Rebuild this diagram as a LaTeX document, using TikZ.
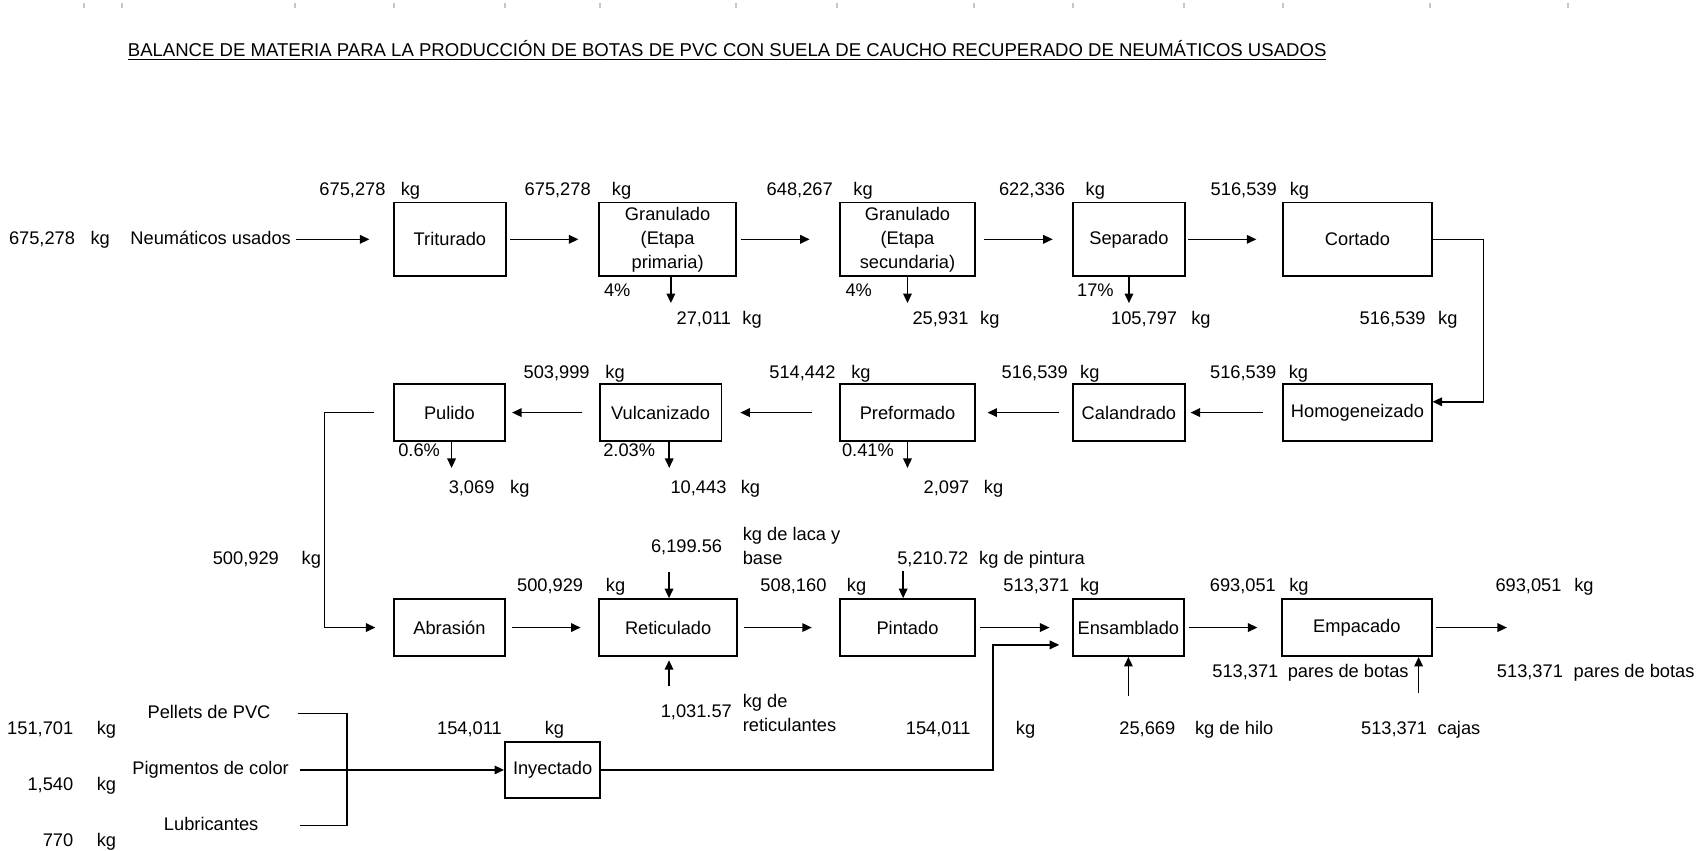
\documentclass[tikz,border=0pt]{standalone}
\usepackage{fontspec}
\setmainfont{Liberation Sans}
\usepackage{graphicx}
\usetikzlibrary{arrows.meta,positioning,calc}

\begin{document}
\begin{tikzpicture}[
  	x=0.02cm,
  	y=-0.02cm,
  	font=\fontsize{9.6}{12.6}\selectfont,
  	stage/.style={draw=black,line width=1pt,align=center,inner sep=1pt,minimum height=1.05cm},
  	tallstage/.style={stage,minimum height=1.36cm},
  	qty/.style={inner sep=0pt,text height=7pt,text depth=2pt},
  	note/.style={inner sep=0pt,align=left,anchor=west},
  	flow/.style={-{Triangle[length=5pt,width=4.5pt]},line width=0.8pt},
  	link/.style={line width=0.8pt},
  	tick/.style={draw=black!22,line width=0.7pt}
  	]
  	\useasboundingbox (0,0) rectangle (1568,785);
  	
  	% sheet column marks
  	\foreach \x in {77.6,112.6,272.4,363.8,466.3,554,679.6,772.9,899.4,990.8,1093.3,1184.7,1320.4,1447.8} {
  		\draw[tick] (\x,3) -- (\x,7);
  	}
  	
  	\node[qty] (title) at (671.5,48) {\resizebox{22.14cm}{!}{\underline{BALANCE DE MATERIA PARA LA PRODUCCIÓN DE BOTAS DE PVC CON SUELA DE CAUCHO RECUPERADO DE NEUMÁTICOS USADOS}}};
  	
  	% Process stages
  	\node[tallstage,minimum width=2.06cm] (trit) at (415.5,221) {Triturado};
  	\node[tallstage,minimum width=2.54cm] (granA) at (616.5,221) {Granulado\\(Etapa\\primaria)};
  	\node[tallstage,minimum width=2.48cm] (granB) at (838,221) {Granulado\\(Etapa\\secundaria)};
  	\node[tallstage,minimum width=2.06cm] (separ) at (1042.5,221) {Separado};
  	\node[tallstage,minimum width=2.74cm] (cort) at (1253.5,221) {Cortado};
  	
  	\node[stage,minimum width=2.06cm] (pulido) at (415,381) {Pulido};
  	\node[stage,minimum width=2.25cm] (vulc) at (610,381) {Vulcanizado};
  	\node[stage,minimum width=2.48cm] (prefor) at (838,381) {Preformado};
  	\node[stage,minimum width=2.06cm] (calan) at (1042.5,381) {Calandrado};
  	\node[stage,minimum width=2.74cm] (homog) at (1253.5,381) {Homogeneizado};
  	
  	\node[stage,minimum width=2.06cm] (abras) at (415,579.5) {Abrasión};
  	\node[stage,minimum width=2.54cm] (retic) at (617,579.5) {Reticulado};
  	\node[stage,minimum width=2.48cm] (pint) at (838,579.5) {Pintado};
  	\node[stage,minimum width=2.06cm] (ensam) at (1042,579.5) {Ensamblado};
  	\node[stage,minimum width=2.76cm] (empac) at (1253,579.5) {Empacado};
  	\node[stage,minimum width=1.76cm,minimum height=1.02cm] (inyec) at (510.3,711) {Inyectado};
  	
  	% Raw materials
  	\node[qty] (neum) at (194.5,221) {Neumáticos usados};
  	\node[qty] (pellets) at (193,658.7) {Pellets de PVC};
  	\node[qty] (pigm) at (194.5,711) {Pigmentos de color};
  	\node[qty] (lubric) at (195,762.4) {Lubricantes};
  	
  	% Quantities
  	\foreach \x/\y/\t [count=\i] in {38.8/221/{675,278}, 325.5/176/{675,278}, 515/176/{675,278}, 738.5/176/{648,267}, 953/176/{622,336}, 1148.5/176/{516,539},
  		650/295/{27,011}, 868.5/295/{25,931}, 1056.5/295/{105,797}, 1286/295/{516,539},
  		514/345.5/{503,999}, 741/345.5/{514,442}, 955.5/345.5/{516,539}, 1148/345.5/{516,539},
  		435.5/451/{3,069}, 645/451/{10,443}, 874/451/{2,097}, 227/517/{500,929},
  		508/542/{500,929}, 732.7/542/{508,160}, 957/542/{513,371}, 1147.7/542/{693,051}, 1411.5/542/{693,051},
  		634/505.7/{6,199.56}, 861.4/517/{5,210.72}, 1150/620.8/{513,371}, 1412.8/620.8/{513,371}, 643/658.6/{1,031.57},
  		433.5/673.5/{154,011}, 866.4/674/{154,011}, 1059.5/674/{25,669}, 1287.4/674/{513,371}} {
  		\node[qty] (q\i) at (\x,\y) {\t};
  	}
  	\foreach \y/\t [count=\i] in {674/{151,701}, 725.8/{1,540}, 777/{770}} {
  		\node[qty,anchor=east] (r\i) at (68,\y) {\t};
  	}
  	\foreach \x/\y [count=\i] in {92.5/221, 379/176, 574/176, 797/176, 1011.5/176, 1200/176,
  		694.5/295, 914/295, 1109/295, 1337/295, 568/345.5, 795/345.5, 1006.4/345.5, 1199/345.5,
  		480/451, 693/451, 917.5/451, 287.5/517, 568.5/542, 791/542, 1006.3/542, 1199.5/542, 1462.7/542,
  		512/673.5, 947/674, 98.3/674, 98.3/725.8, 98.3/777} {
  		\node[qty] (kg\i) at (\x,\y) {kg};
  	}
  	\foreach \x/\y/\t [count=\i] in {570/269/4\%, 793/269/4\%, 1011.5/269/17\%, 387/417/0.6\%, 581/417/2.03\%, 801.5/417/0.41\%} {
  		\node[qty] (pc\i) at (\x,\y) {\t};
  	}
  	\node[note] (laca) at (685.6,504.2) {kg de laca y\\base};
  	\node[qty] (pintura) at (953,517) {kg de pintura};
  	\node[note] (reticul) at (685.6,658.8) {kg de\\reticulantes};
  	\node[qty] (pares) at (1245,620.8) {pares de botas};
  	\node[qty] (paresout) at (1509,620.8) {pares de botas};
  	\node[qty] (hilo) at (1139.7,674) {kg de hilo};
  	\node[qty] (cajas) at (1347.3,674) {cajas};
  	
  	% Main line
  	\draw[flow,shorten <=0.08cm,shorten >=0.44cm] (neum) -- (trit);
  	\draw[flow,shorten <=0.07cm,shorten >=0.36cm] (trit) -- (granA);
  	\draw[flow,shorten <=0.06cm,shorten >=0.55cm] (granA) -- (granB);
  	\draw[flow,shorten <=0.15cm,shorten >=0.36cm] (granB) -- (separ);
  	\draw[flow,shorten <=0.04cm,shorten >=0.48cm] (separ) -- (cort);
  	\coordinate (vuelta) at (1370,221);
  	\draw[flow] (cort.east) -- (vuelta) |- ([yshift=0.2cm]homog.east);
  	\draw[flow,shorten <=0.36cm,shorten >=0.09cm] (homog) -- (calan);
  	\draw[flow,shorten <=0.25cm,shorten >=0.22cm] (calan) -- (prefor);
  	\draw[flow,shorten <=0.51cm,shorten >=0.33cm] (prefor) -- (vulc);
  	\draw[flow,shorten <=0.30cm,shorten >=0.11cm] (vulc) -- (pulido);
  	\coordinate (bajada) at (299.7,381);
  	\draw[flow,shorten <=0.35cm,shorten >=0.32cm] (pulido.west) -- (bajada) |- (abras.west);
  	\draw[flow,shorten <=0.10cm,shorten >=0.33cm] (abras) -- (retic);
  	\draw[flow,shorten <=0.11cm,shorten >=0.51cm] (retic) -- (pint);
  	\draw[flow,shorten <=0.08cm,shorten >=0.41cm] (pint) -- (ensam);
  	\draw[flow,shorten <=0.07cm,shorten >=0.44cm] (ensam) -- (empac);
  	\coordinate (salida) at (1391.6,579.5);
  	\draw[flow,shorten <=0.06cm] (empac.east) -- (salida);
  	
  	% Losses
  	\foreach \n/\dx in {granA/3,granB/0,separ/0,pulido/2,vulc/8,prefor/0} {
  		\coordinate (\n-loss) at ([xshift=\dx*0.02cm,yshift=-0.48cm]\n.south);
  		\draw[flow] ([xshift=\dx*0.02cm]\n.south) -- (\n-loss);
  	}
  	
  	% Additions
  	\coordinate (lacaIn) at (617.8,528);
  	\draw[flow] (lacaIn) -- (lacaIn |- retic.north);
  	\coordinate (pintIn) at (834,527);
  	\draw[flow] (pintIn) -- (pintIn |- pint.north);
  	\coordinate (reticIn) at (617.8,633.5);
  	\draw[flow,shorten >=0.06cm] (reticIn) -- (reticIn |- retic.south);
  	\coordinate (hiloIn) at (1042,643);
  	\draw[flow] (hiloIn) -- (hiloIn |- ensam.south);
  	\coordinate (cajasIn) at (1310,640);
  	\draw[flow] (cajasIn) -- (cajasIn |- empac.south);
  	
  	% PVC line
  	\coordinate (mezcla) at (320.6,711);
  	\draw[link,shorten <=0.5cm] (pellets.east) -| (mezcla);
  	\draw[link,shorten <=0.76cm] (lubric.east) -| (mezcla);
  	\draw[flow,shorten <=0.2cm] (pigm.east) -- (inyec.west);
  	\coordinate (junta) at (917,711);
  	\draw[flow,shorten >=0.23cm] (inyec.east) -- (junta) |- ([yshift=-0.32cm]ensam.west);
\end{tikzpicture}
\end{document}
